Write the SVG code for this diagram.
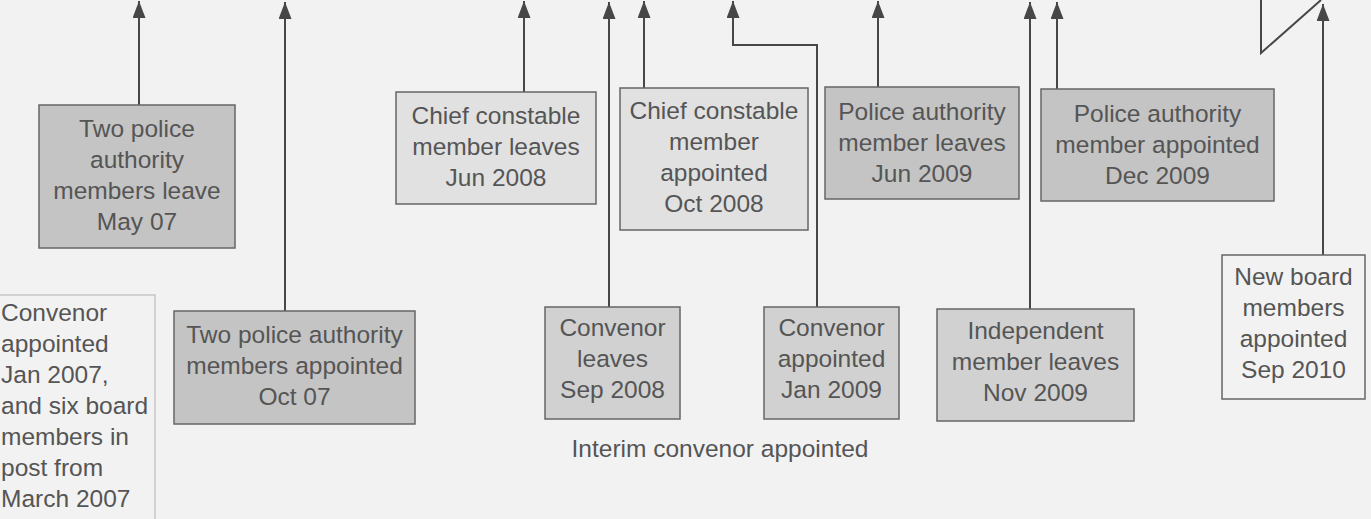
<svg xmlns="http://www.w3.org/2000/svg" width="1371" height="519" viewBox="0 0 1371 519">
<style>
text{font-family:"Liberation Sans",Arial,sans-serif;font-size:24.5px;fill:#555;}
.c{text-anchor:middle;}
.box{stroke:#666;stroke-width:1.5;}
.dark{fill:#c4c4c4;}
.mid{fill:#d1d1d1;}
.light{fill:#e1e1e1;}
.plain{fill:#f2f2f2;}
.conn{fill:none;stroke:#474747;stroke-width:2;}
</style>
<defs>
<marker id="ah" viewBox="0 0 17 13" markerUnits="userSpaceOnUse" markerWidth="17" markerHeight="13" refX="17" refY="6.5" orient="auto">
<path d="M0,0 L17,6.5 L0,13 z" fill="#474747"/>
</marker>
</defs>
<rect x="0" y="0" width="1371" height="519" fill="#f2f2f2"/>
<g id="connectors">
<path class="conn" d="M139,105 V1" marker-end="url(#ah)"/>
<path class="conn" d="M285,311 V2" marker-end="url(#ah)"/>
<path class="conn" d="M524,92 V1" marker-end="url(#ah)"/>
<path class="conn" d="M609,307 V2" marker-end="url(#ah)"/>
<path class="conn" d="M644,88 V1" marker-end="url(#ah)"/>
<path class="conn" d="M817,307 V45 H733 V1" marker-end="url(#ah)"/>
<path class="conn" d="M878,87 V1" marker-end="url(#ah)"/>
<path class="conn" d="M1030,309 V2" marker-end="url(#ah)"/>
<path class="conn" d="M1057,89 V2" marker-end="url(#ah)"/>
<path class="conn" d="M1323,255 V4" marker-end="url(#ah)"/>
<path class="conn" d="M1261,0 V53 L1321,0"/>
</g>
<g id="node-may07">
<rect class="box dark" x="39" y="105" width="196" height="143"/>
<text class="c" x="137" y="137">Two police</text>
<text class="c" x="137" y="168">authority</text>
<text class="c" x="137" y="199">members leave</text>
<text class="c" x="137" y="230">May 07</text>
</g>
<g id="node-oct07">
<rect class="box dark" x="174" y="311" width="241" height="113"/>
<text class="c" x="294.5" y="343">Two police authority</text>
<text class="c" x="294.5" y="374">members appointed</text>
<text class="c" x="294.5" y="405">Oct 07</text>
</g>
<g id="node-convenor2007">
<rect x="-2" y="295" width="157" height="240" fill="#f2f2f2" stroke="#c6c6c6" stroke-width="1.5"/>
<text x="1" y="321">Convenor</text>
<text x="1" y="352">appointed</text>
<text x="1" y="383">Jan 2007,</text>
<text x="1" y="414">and six board</text>
<text x="1" y="445">members in</text>
<text x="1" y="476">post from</text>
<text x="1" y="507">March 2007</text>
</g>
<g id="node-jun2008">
<rect class="box light" x="396" y="92" width="200" height="112"/>
<text class="c" x="496" y="124">Chief constable</text>
<text class="c" x="496" y="155">member leaves</text>
<text class="c" x="496" y="186">Jun 2008</text>
</g>
<g id="node-oct2008">
<rect class="box light" x="620" y="88" width="188" height="142"/>
<text class="c" x="714" y="119">Chief constable</text>
<text class="c" x="714" y="150">member</text>
<text class="c" x="714" y="181">appointed</text>
<text class="c" x="714" y="212">Oct 2008</text>
</g>
<g id="node-sep2008">
<rect class="box mid" x="545" y="307" width="135" height="112"/>
<text class="c" x="612.5" y="336">Convenor</text>
<text class="c" x="612.5" y="367">leaves</text>
<text class="c" x="612.5" y="398">Sep 2008</text>
</g>
<g id="node-jan2009">
<rect class="box mid" x="764" y="307" width="135" height="112"/>
<text class="c" x="831.5" y="336">Convenor</text>
<text class="c" x="831.5" y="367">appointed</text>
<text class="c" x="831.5" y="398">Jan 2009</text>
</g>
<g id="node-interim">
<text class="c" x="720" y="457">Interim convenor appointed</text>
</g>
<g id="node-jun2009">
<rect class="box dark" x="825" y="87" width="194" height="112"/>
<text class="c" x="922" y="120">Police authority</text>
<text class="c" x="922" y="151">member leaves</text>
<text class="c" x="922" y="182">Jun 2009</text>
</g>
<g id="node-nov2009">
<rect class="box mid" x="937" y="309" width="197" height="112"/>
<text class="c" x="1035.5" y="339">Independent</text>
<text class="c" x="1035.5" y="370">member leaves</text>
<text class="c" x="1035.5" y="401">Nov 2009</text>
</g>
<g id="node-dec2009">
<rect class="box dark" x="1041" y="89" width="233" height="112"/>
<text class="c" x="1157.5" y="122">Police authority</text>
<text class="c" x="1157.5" y="153">member appointed</text>
<text class="c" x="1157.5" y="184">Dec 2009</text>
</g>
<g id="node-sep2010">
<rect class="box plain" x="1222" y="255" width="143" height="144"/>
<text class="c" x="1293.5" y="285">New board</text>
<text class="c" x="1293.5" y="316">members</text>
<text class="c" x="1293.5" y="347">appointed</text>
<text class="c" x="1293.5" y="378">Sep 2010</text>
</g>
</svg>
